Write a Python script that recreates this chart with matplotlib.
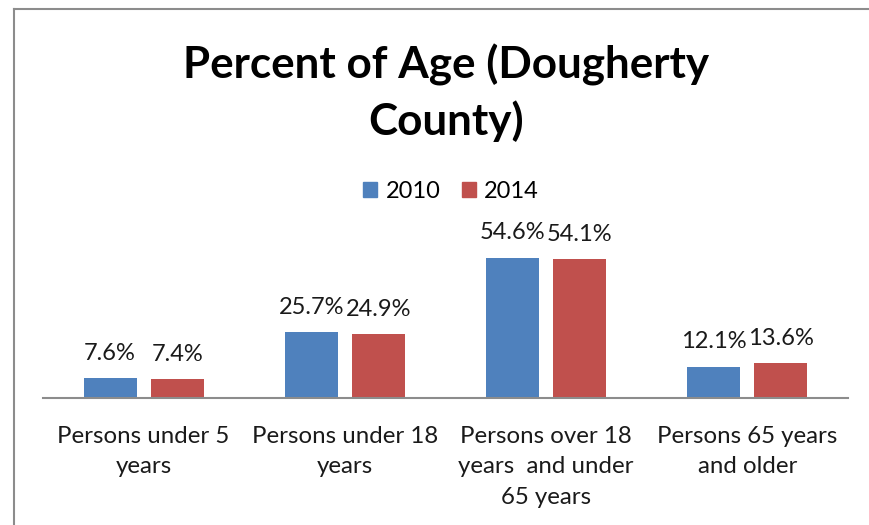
import matplotlib
matplotlib.use("Agg")
import matplotlib.pyplot as plt
from matplotlib.lines import Line2D

categories = ["Persons under 5\nyears", "Persons under 18\nyears", "Persons over 18\nyears  and under\n65 years", "Persons 65 years\nand older"]
series_names = ["2010", "2014"]
values_2010 = [7.6, 25.7, 54.6, 12.1]
values_2014 = [7.4, 24.9, 54.1, 13.6]
colors = ["#4F81BD", "#C0504D"]

plt.rcParams['font.family'] = ['Lato', 'DejaVu Sans']

W, H = 870, 525
fig = plt.figure(figsize=(W/100, H/100), dpi=100)

# border
fig.add_artist(Line2D([14/W, 14/W], [0, 1 - 9/H], color="#8c8c8c", lw=1.5, transform=fig.transFigure))
fig.add_artist(Line2D([14/W, 1], [1 - 9/H, 1 - 9/H], color="#8c8c8c", lw=1.5, transform=fig.transFigure))

ax = fig.add_axes([43/W, (H-398)/H, 805/W, (398-244)/H])
ax.set_xlim(-0.5, 3.5)
ax.set_ylim(0, 60)

bw = 0.264
off = 0.1665
xs = range(len(categories))
for vals, c, o, name in [(values_2010, colors[0], -off, series_names[0]), (values_2014, colors[1], off, series_names[1])]:
    pos = [x + o for x in xs]
    ax.bar(pos, vals, width=bw, color=c, label=name)
    for p, v in zip(pos, vals):
        ax.annotate(f"{v:.1f}%", (p, v), xytext=(0, 18), textcoords="offset points",
                    ha="center", va="center", fontsize=17, color="#1a1a1a")

for s in ["top", "right", "left"]:
    ax.spines[s].set_visible(False)
ax.spines["bottom"].set_color("#8c8c8c")
ax.spines["bottom"].set_linewidth(1.5)
ax.set_yticks([])
ax.set_xticks(list(xs))
ax.set_xticklabels(categories, fontsize=17.3, linespacing=1.56, color="#1a1a1a", va="top")
ax.tick_params(axis="x", length=0, pad=20)

fig.text(446/W, 1 - 65/H, "Percent of Age (Dougherty", ha="center", va="center", fontsize=31.7, fontweight="bold")
fig.text(446/W, 1 - 121/H, "County)", ha="center", va="center", fontsize=31.7, fontweight="bold")

handles = [plt.Rectangle((0, 0), 1, 1, color=c) for c in colors]
fig.legend(handles, series_names, loc="center", bbox_to_anchor=(451/W, 1 - 191/H), ncol=2, frameon=False,
           fontsize=17, handlelength=0.6, handleheight=0.6, handletextpad=0.35, columnspacing=0.9)

fig.savefig("out.png", dpi=100)
